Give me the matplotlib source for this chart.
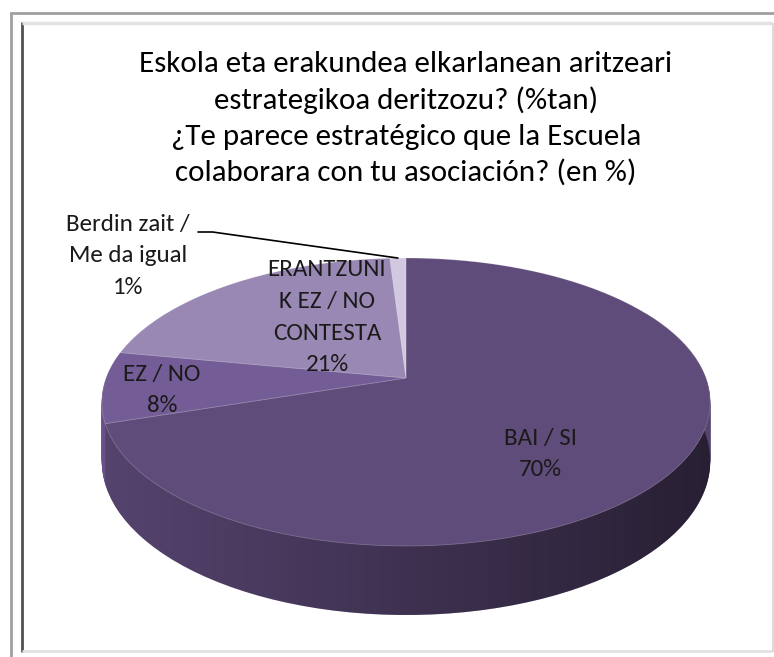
import numpy as np
import matplotlib
matplotlib.use("Agg")
import matplotlib.pyplot as plt
from matplotlib import font_manager
from matplotlib.path import Path
from matplotlib.patches import PathPatch
from matplotlib.lines import Line2D
from matplotlib.transforms import Transform

# ---------------- data ----------------
categories = ["BAI / SI", "EZ / NO", "ERANTZUNIK EZ / NO CONTESTA", "Berdin zait / Me da igual"]
label_names = ["BAI / SI", "EZ / NO", "ERANTZUNI\nK EZ / NO\nCONTESTA", "Berdin zait /\nMe da igual"]
values = [70, 8, 21, 1]
title_lines = ["Eskola eta erakundea elkarlanean aritzeari",
               "estrategikoa deritzozu? (%tan)",
               "¿Te parece estratégico que la Escuela",
               "colaborara con tu asociación? (en %)"]

top_colors = ["#604c7a", "#745d96", "#9a88b4", "#d2c9e0"]
side_colors = ["#56446f", "#67538a", "#85749f", "#b4aac6"]

# ---------------- font ----------------
def pick_font(cands):
    for c in cands:
        try:
            font_manager.findfont(c, fallback_to_default=False)
            return c
        except Exception:
            pass
    return "DejaVu Sans"

FONT = pick_font(["Carlito", "Lato", "Liberation Sans Narrow", "Liberation Sans"])
plt.rcParams["font.family"] = [FONT, "DejaVu Sans"]

# ---------------- layout (pixels) ----------------
W, H, DPI = 774, 657, 100
CX, CY = 406, 378          # pie centre (pixels from top-left)
RX, RYP = 300, 140         # horizontal radius, vertical compression
KP = 0.1667                # perspective strength
DEPTH = 57.5               # pie thickness

fig = plt.figure(figsize=(W / DPI, H / DPI), dpi=DPI)
fig.patch.set_facecolor("white")
ax = fig.add_axes([0, 0, 1, 1])


class Perspective(Transform):
    """Projects the flat unit disk (u, v), seen at an angle, into pixel data space."""
    input_dims = 2
    output_dims = 2
    is_separable = False
    has_inverse = False

    def __init__(self, z=0.0):
        super().__init__()
        self.z = z

    def transform_non_affine(self, values):
        values = np.asarray(values, dtype=float)
        u = values[:, 0]
        v = values[:, 1]
        s = 1.0 / (1.0 + KP * v)
        return np.column_stack([CX + RX * u * s, (H - CY) + (RYP * v - self.z) * s])

    def transform_path_non_affine(self, path):
        pts = []
        codes = []
        start = None
        tt = np.linspace(0, 1, 13)[1:]
        for bez, code in path.iter_bezier():
            cp = np.asarray(bez.control_points)
            if code == Path.MOVETO:
                start = cp[-1:]
                pts.append(start)
                codes.append([Path.MOVETO])
            elif code == Path.CLOSEPOLY:
                pts.append(bez(tt))
                codes.append([Path.LINETO] * len(tt))
            else:
                pts.append(bez(tt))
                codes.append([Path.LINETO] * len(tt))
        if start is not None:
            pts.append(start)
            codes.append([Path.CLOSEPOLY])
        verts = self.transform_non_affine(np.vstack(pts))
        return Path(verts, np.concatenate(codes).astype(Path.code_type))


def draw_pie(colors, z, zorder, edge):
    wedges, _ = ax.pie(values, colors=colors, startangle=90, counterclock=False, radius=1,
                       wedgeprops=dict(linewidth=edge[0], edgecolor=edge[1]))
    tr = Perspective(z) + ax.transData
    for w in wedges:
        w.set_transform(tr)
        w.set_zorder(zorder)
    return wedges


# side: stacked layers
for z in np.linspace(DEPTH, 0, 70)[:-1]:
    draw_pie(side_colors, z, 1, (0, "none"))

# horizontal shading of the side
ang = np.deg2rad(np.linspace(150, 390, 400))
rim = np.column_stack([np.cos(ang), np.sin(ang)])
top_rim = Perspective(0).transform(rim)
bot_rim = Perspective(DEPTH).transform(rim)[::-1]
verts = np.vstack([top_rim, bot_rim, top_rim[:1]])
clip_patch = PathPatch(Path(verts, closed=True), facecolor="none", edgecolor="none",
                       transform=ax.transData)
ax.add_patch(clip_patch)
grad = np.zeros((2, 256, 4))
grad[..., 3] = np.linspace(0.0, 0.55, 256)[None, :]
x0, x1 = CX - RX * 1.05, CX + RX * 1.05
img = ax.imshow(grad, extent=(x0, x1, 0, H), aspect="auto", zorder=2,
                interpolation="bilinear")
img.set_clip_path(clip_patch)

# top face
draw_pie(top_colors, 0, 3, (0.6, (1, 1, 1, 0.22)))

ax.set_aspect("auto")
ax.set_xlim(0, W)
ax.set_ylim(0, H)
ax.set_axis_off()

# ---------------- labels ----------------
pcts = [f"{round(100 * v / sum(values))}%" for v in values]
label_x = [540, 162, 327, 128]
label_y0 = [436, 372, 268, 222]
LSP = 31.5
for name, pct, x, y0 in zip(label_names, pcts, label_x, label_y0):
    lines = name.split("\n") + [pct]
    for i, ln in enumerate(lines):
        fig.text(x / W, 1 - (y0 + i * LSP) / H, ln, ha="center", va="center_baseline",
                 fontsize=18, color="#1a1a1a", zorder=5)

# leader line for the 1% slice
mid = np.deg2rad(90 - 360 * (sum(values[:3]) + values[3] / 2) / sum(values))
ax.annotate("", xy=(np.cos(mid), np.sin(mid)), xycoords=Perspective(0) + ax.transData,
            xytext=(198, H - 232), textcoords="figure pixels",
            arrowprops=dict(arrowstyle="-", color="black", lw=1.2, shrinkA=0, shrinkB=0,
                            connectionstyle="angle,angleA=0,angleB=-8,rad=0"),
            zorder=6)

# ---------------- title ----------------
title_y = [62, 98, 134, 170]
for ln, y in zip(title_lines, title_y):
    fig.text(406 / W, 1 - y / H, ln, ha="center", va="center_baseline", fontsize=22.3,
             color="#000000")

# ---------------- frame ----------------
def fline(xa, ya, xb, yb, color, lw):
    fig.add_artist(Line2D([xa / W, xb / W], [1 - ya / H, 1 - yb / H], color=color, lw=lw,
                          transform=fig.transFigure, solid_capstyle="butt"))

fline(11, 12, 11, H, "#a0a0a0", 2.0)
fline(10, 13, W, 13, "#a0a0a0", 2.0)
fline(22, 22, 22, 652, "#505050", 2.0)
fline(22, 23, W - 2, 23, "#e2e2e2", 2.5)
fline(22, 651, W - 2, 651, "#e2e2e2", 2.0)
fline(W - 1.5, 23, W - 1.5, 652, "#dcdcdc", 1.5)

fig.savefig("out.png", dpi=DPI, facecolor="white")
